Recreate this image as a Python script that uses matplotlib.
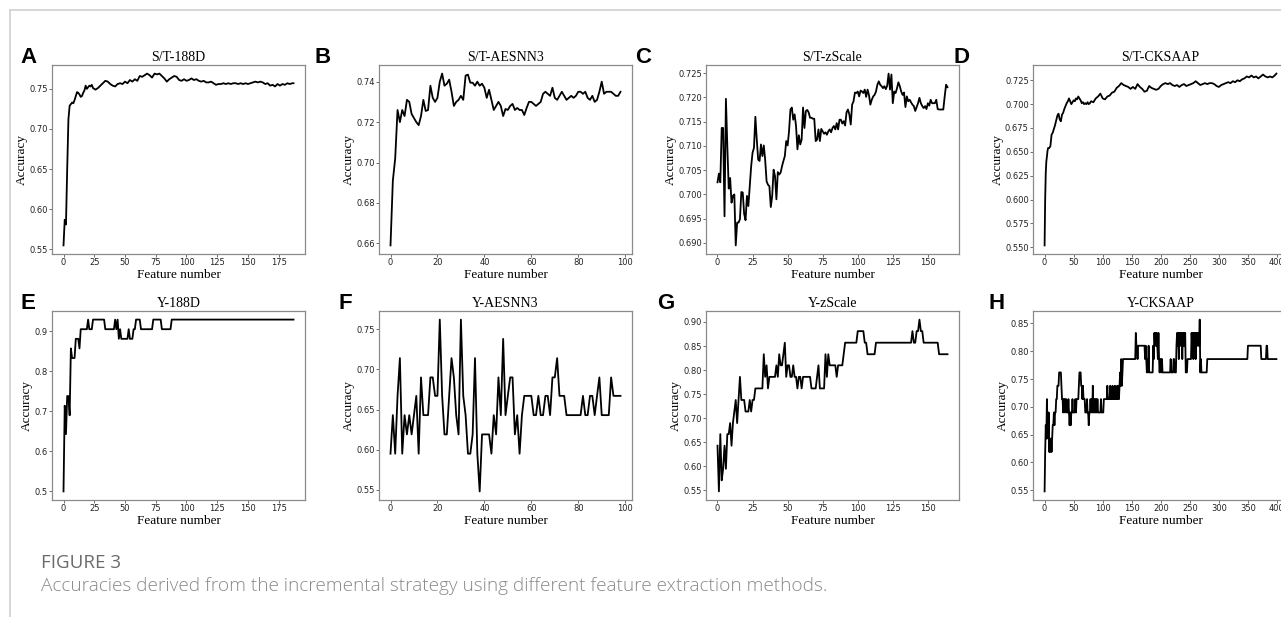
import matplotlib
matplotlib.use('Agg')
import matplotlib.pyplot as plt
from matplotlib.lines import Line2D

W, H = 1281, 617

# ---- data ----
titles = ['S/T-188D', 'S/T-AESNN3', 'S/T-zScale', 'S/T-CKSAAP',
          'Y-188D', 'Y-AESNN3', 'Y-zScale', 'Y-CKSAAP']
letters = ['A', 'B', 'C', 'D', 'E', 'F', 'G', 'H']

a_x = list(range(0, 25)) + list(range(26, 187, 2)) + [187]
a_y = [0.555, 0.587, 0.581, 0.650, 0.712, 0.729, 0.731, 0.733, 0.732, 0.736,
       0.741, 0.746, 0.745, 0.743, 0.740, 0.741, 0.745, 0.748, 0.754, 0.750,
       0.752, 0.754, 0.753, 0.755, 0.751,
       0.749, 0.751, 0.754, 0.757, 0.760, 0.759, 0.756, 0.754, 0.753, 0.756,
       0.757, 0.756, 0.759, 0.757, 0.761, 0.759, 0.762, 0.760, 0.766, 0.765,
       0.767, 0.769, 0.767, 0.764, 0.769, 0.768, 0.769, 0.766, 0.763, 0.759,
       0.762, 0.764, 0.766, 0.765, 0.761, 0.760, 0.762, 0.760, 0.761, 0.763,
       0.761, 0.762, 0.760, 0.759, 0.760, 0.758, 0.758, 0.759, 0.757, 0.755,
       0.756, 0.756, 0.757, 0.756, 0.757, 0.756, 0.757, 0.757, 0.756, 0.757,
       0.756, 0.757, 0.756, 0.757, 0.758, 0.759, 0.758, 0.759, 0.758, 0.756,
       0.757, 0.754, 0.755, 0.753, 0.756, 0.754, 0.756, 0.755, 0.757, 0.756,
       0.757, 0.757]

b_y = [0.659, 0.691, 0.702, 0.726, 0.720, 0.726, 0.723, 0.731, 0.730, 0.724,
       0.722, 0.720, 0.7185, 0.723, 0.731, 0.7255, 0.726, 0.738, 0.732, 0.730,
       0.732, 0.740, 0.744, 0.738, 0.739, 0.741, 0.735, 0.728, 0.730, 0.731,
       0.733, 0.731, 0.743, 0.7435, 0.7395, 0.7395, 0.738, 0.740, 0.738, 0.739,
       0.737, 0.732, 0.736, 0.731, 0.726, 0.728, 0.730, 0.728, 0.723, 0.7265,
       0.726, 0.728, 0.729, 0.726, 0.727, 0.726, 0.726, 0.7235, 0.727, 0.730,
       0.730, 0.729, 0.728, 0.729, 0.730, 0.734, 0.735, 0.734, 0.733, 0.737,
       0.732, 0.731, 0.733, 0.735, 0.733, 0.731, 0.732, 0.733, 0.732, 0.733,
       0.735, 0.735, 0.734, 0.735, 0.732, 0.731, 0.733, 0.730, 0.731, 0.735,
       0.740, 0.734, 0.735, 0.735, 0.735, 0.734, 0.733, 0.733, 0.735]

c_y = [0.7025, 0.7043, 0.7025, 0.7137, 0.7137, 0.6955, 0.7197, 0.7100, 0.7012, 0.7034,
       0.6983, 0.6997, 0.7000, 0.6895, 0.6942, 0.6942, 0.6949, 0.7005, 0.7004, 0.6960,
       0.6947, 0.6997, 0.6976, 0.7017, 0.7058, 0.7086, 0.7096, 0.7160, 0.7113, 0.7072,
       0.7069, 0.7103, 0.7079, 0.7101, 0.7071, 0.7027, 0.7020, 0.7017, 0.6974, 0.6997,
       0.7051, 0.7038, 0.6990, 0.7046, 0.7041, 0.7045, 0.7058, 0.7069, 0.7079, 0.7110,
       0.7101, 0.7130, 0.7175, 0.7179, 0.7154, 0.7165, 0.7141, 0.7093, 0.7122, 0.7103,
       0.7113, 0.7179, 0.7137, 0.7172, 0.7174, 0.7169, 0.7158, 0.7158, 0.7156, 0.7156,
       0.7110, 0.7113, 0.7134, 0.7110, 0.7135, 0.7130, 0.7125, 0.7128, 0.7123, 0.7130,
       0.7134, 0.7128, 0.7137, 0.7141, 0.7134, 0.7147, 0.7134, 0.7154, 0.7154, 0.7146,
       0.7151, 0.7142, 0.7169, 0.7175, 0.7165, 0.7144, 0.7185, 0.7192, 0.7210, 0.7209,
       0.7212, 0.7202, 0.7214, 0.7212, 0.7209, 0.7216, 0.7201, 0.7216, 0.7205, 0.7185,
       0.7195, 0.7202, 0.7205, 0.7212, 0.7226, 0.7233, 0.7226, 0.7223, 0.7219, 0.7223,
       0.7217, 0.7224, 0.7249, 0.7216, 0.7247, 0.7188, 0.7212, 0.7209, 0.7219, 0.7231,
       0.7223, 0.7212, 0.7205, 0.7210, 0.7180, 0.7202, 0.7192, 0.7195, 0.7190, 0.7185,
       0.7182, 0.7172, 0.7180, 0.7188, 0.7199, 0.7188, 0.7182, 0.7178, 0.7182, 0.7176,
       0.7188, 0.7183, 0.7195, 0.7188, 0.7188, 0.7188, 0.7195, 0.7176, 0.7175, 0.7175,
       0.7175, 0.7175, 0.7202, 0.7226, 0.7221]

d_x = [0, 1, 2, 3, 4, 5, 6, 8, 10, 12, 14, 16, 18, 20, 22, 24, 26, 28, 30, 32,
       34, 36, 38, 40, 42, 44, 46, 48, 50, 52, 54, 56, 58, 60, 62, 64, 66, 68,
       70, 72, 74, 76, 78, 80, 84, 88, 92, 96, 100, 104, 108, 112, 116, 120,
       124, 128, 132, 136, 140, 144, 148, 152, 156, 160, 164, 168, 172, 176,
       180, 184, 188, 192, 196, 200, 204, 208, 212, 216, 220, 224, 228, 232,
       236, 240, 244, 248, 252, 256, 260, 264, 268, 272, 276, 280, 284, 288,
       292, 296, 300, 304, 308, 312, 316, 320, 324, 328, 332, 336, 340, 344,
       348, 352, 356, 360, 364, 368, 372, 376, 380, 384, 388, 392, 396, 399]
d_y = [0.552, 0.600, 0.628, 0.640, 0.645, 0.651, 0.654, 0.654, 0.656, 0.668,
       0.670, 0.674, 0.678, 0.683, 0.688, 0.690, 0.684, 0.682, 0.689, 0.691,
       0.695, 0.698, 0.701, 0.703, 0.706, 0.703, 0.700, 0.702, 0.704, 0.703,
       0.706, 0.705, 0.708, 0.706, 0.704, 0.701, 0.702, 0.700, 0.701, 0.700,
       0.702, 0.700, 0.701, 0.703, 0.702, 0.706, 0.708, 0.711, 0.706, 0.705,
       0.708, 0.709, 0.712, 0.713, 0.717, 0.719, 0.722, 0.720, 0.719, 0.718,
       0.716, 0.718, 0.716, 0.721, 0.718, 0.716, 0.713, 0.714, 0.719, 0.717,
       0.716, 0.715, 0.716, 0.719, 0.721, 0.722, 0.721, 0.722, 0.720, 0.719,
       0.720, 0.718, 0.720, 0.721, 0.719, 0.720, 0.721, 0.722, 0.724, 0.722,
       0.720, 0.721, 0.722, 0.721, 0.722, 0.722, 0.721, 0.719, 0.718, 0.720,
       0.721, 0.722, 0.723, 0.722, 0.724, 0.723, 0.725, 0.724, 0.726, 0.727,
       0.729, 0.728, 0.730, 0.728, 0.729, 0.727, 0.729, 0.731, 0.729, 0.728,
       0.729, 0.728, 0.730, 0.732]

e_x = [0, 1, 2, 3, 4, 5, 6, 7, 9, 10, 12, 13, 14, 19, 20, 21, 23, 24, 33, 34,
       41, 42, 43, 44, 45, 46, 47, 52, 53, 54, 56, 57, 58, 59, 62, 63, 72, 73,
       79, 80, 87, 88, 187]
e_y = [0.500, 0.714, 0.643, 0.738, 0.738, 0.690, 0.857, 0.833, 0.833, 0.881,
       0.881, 0.857, 0.905, 0.905, 0.929, 0.905, 0.905, 0.929, 0.929, 0.905,
       0.905, 0.929, 0.905, 0.929, 0.881, 0.905, 0.881, 0.881, 0.905, 0.881,
       0.881, 0.905, 0.905, 0.929, 0.929, 0.905, 0.905, 0.929, 0.929, 0.905,
       0.905, 0.929, 0.929]

f_y = [0.595, 0.643, 0.595, 0.667, 0.714, 0.595, 0.643, 0.619, 0.643, 0.619,
       0.643, 0.667, 0.595, 0.690, 0.643, 0.643, 0.643, 0.690, 0.690, 0.667,
       0.667, 0.762, 0.667, 0.619, 0.619, 0.667, 0.714, 0.690, 0.643, 0.619,
       0.762, 0.667, 0.643, 0.595, 0.595, 0.619, 0.714, 0.595, 0.548, 0.619,
       0.619, 0.619, 0.619, 0.595, 0.643, 0.619, 0.690, 0.643, 0.738, 0.643,
       0.667, 0.690, 0.690, 0.619, 0.643, 0.595, 0.643, 0.667, 0.667, 0.667,
       0.667, 0.643, 0.643, 0.667, 0.643, 0.643, 0.667, 0.667, 0.643, 0.690,
       0.690, 0.714, 0.667, 0.667, 0.667, 0.643, 0.643, 0.643, 0.643, 0.643,
       0.643, 0.643, 0.667, 0.643, 0.643, 0.667, 0.667, 0.643, 0.667, 0.690,
       0.643, 0.643, 0.643, 0.643, 0.690, 0.667, 0.667, 0.667, 0.667]

g_y = [0.643, 0.548, 0.667, 0.571, 0.595, 0.643, 0.595, 0.667, 0.667, 0.690,
       0.643, 0.690, 0.714, 0.738, 0.690, 0.738, 0.786, 0.738, 0.738, 0.738,
       0.714, 0.714, 0.714, 0.738, 0.714, 0.738, 0.738, 0.762, 0.762, 0.762,
       0.762, 0.762, 0.762, 0.833, 0.786, 0.810, 0.762, 0.786, 0.786, 0.786,
       0.786, 0.786, 0.810, 0.786, 0.833, 0.810, 0.810, 0.833, 0.857, 0.786,
       0.810, 0.810, 0.786, 0.786, 0.810, 0.786, 0.786, 0.762, 0.786, 0.786,
       0.762, 0.786, 0.786, 0.786, 0.786, 0.786, 0.786, 0.762, 0.762, 0.762,
       0.762, 0.786, 0.810, 0.762, 0.762, 0.762, 0.762, 0.833, 0.786, 0.833,
       0.810, 0.810, 0.810, 0.810, 0.810, 0.786, 0.810, 0.810, 0.810, 0.810,
       0.833, 0.857, 0.857, 0.857, 0.857, 0.857, 0.857, 0.857, 0.857, 0.857,
       0.881, 0.881, 0.881, 0.881, 0.881, 0.857, 0.857, 0.833, 0.833, 0.833,
       0.833, 0.833, 0.833, 0.857, 0.857, 0.857, 0.857, 0.857, 0.857, 0.857,
       0.857, 0.857, 0.857, 0.857, 0.857, 0.857, 0.857, 0.857, 0.857, 0.857,
       0.857, 0.857, 0.857, 0.857, 0.857, 0.857, 0.857, 0.857, 0.857, 0.881,
       0.857, 0.857, 0.881, 0.881, 0.905, 0.881, 0.881, 0.857, 0.857, 0.857,
       0.857, 0.857, 0.857, 0.857, 0.857, 0.857, 0.857, 0.857, 0.833, 0.833,
       0.833, 0.833, 0.833, 0.833, 0.833]

h_x = [0, 1, 2, 3, 4, 5, 6, 7, 8, 9, 10, 11, 12, 13, 14, 15, 16, 17, 18, 19,
       20, 21, 22, 24, 25, 28, 29, 30, 31, 32, 33, 34, 35, 36, 37, 38, 40, 41,
       42, 43, 44, 45, 46, 47, 48, 49, 52, 53, 54, 55, 58, 59, 60, 62, 63, 64,
       65, 66, 67, 69, 70, 72, 73, 74, 75, 76, 77, 78, 79, 80, 81, 82, 83, 84,
       85, 86, 87, 88, 89, 90, 91, 92, 96, 97, 98, 101, 102, 107, 108, 109,
       112, 113, 114, 116, 117, 118, 120, 121, 122, 124, 125, 126, 127, 128,
       129, 130, 131, 132, 133, 134, 135, 156, 157, 158, 159, 160, 161, 172,
       173, 174, 175, 176, 177, 178, 179, 180, 186, 187, 188, 189, 190, 191,
       192, 193, 194, 195, 196, 197, 198, 199, 200, 201, 202, 203, 216, 217,
       218, 221, 222, 223, 224, 226, 227, 228, 229, 230, 231, 232, 233, 234,
       235, 236, 237, 238, 239, 240, 241, 242, 243, 245, 246, 252, 253, 254,
       255, 256, 257, 258, 259, 260, 261, 262, 263, 264, 265, 266, 267, 268,
       269, 270, 279, 280, 349, 350, 372, 373, 381, 382, 383, 384, 399]
h_y = [0.548, 0.619, 0.667, 0.643, 0.714, 0.667, 0.643, 0.690, 0.619, 0.643,
       0.619, 0.643, 0.619, 0.643, 0.667, 0.667, 0.690, 0.667, 0.690, 0.690,
       0.714, 0.714, 0.738, 0.738, 0.762, 0.762, 0.738, 0.714, 0.714, 0.690,
       0.714, 0.714, 0.690, 0.714, 0.714, 0.690, 0.690, 0.714, 0.690, 0.667,
       0.690, 0.667, 0.690, 0.690, 0.714, 0.690, 0.690, 0.714, 0.690, 0.714,
       0.714, 0.738, 0.762, 0.762, 0.738, 0.738, 0.714, 0.738, 0.714, 0.714,
       0.690, 0.690, 0.714, 0.690, 0.690, 0.667, 0.690, 0.690, 0.714, 0.690,
       0.714, 0.690, 0.738, 0.690, 0.714, 0.690, 0.714, 0.690, 0.714, 0.690,
       0.714, 0.690, 0.690, 0.714, 0.690, 0.690, 0.714, 0.714, 0.738, 0.714,
       0.714, 0.738, 0.714, 0.714, 0.738, 0.714, 0.714, 0.738, 0.714, 0.714,
       0.738, 0.714, 0.738, 0.714, 0.738, 0.762, 0.738, 0.786, 0.738, 0.762,
       0.786, 0.786, 0.833, 0.810, 0.810, 0.786, 0.810, 0.810, 0.786, 0.810,
       0.786, 0.762, 0.786, 0.762, 0.810, 0.762, 0.762, 0.810, 0.786, 0.833,
       0.810, 0.833, 0.810, 0.833, 0.810, 0.786, 0.833, 0.786, 0.762, 0.786,
       0.786, 0.762, 0.786, 0.762, 0.762, 0.786, 0.762, 0.762, 0.786, 0.786,
       0.762, 0.762, 0.810, 0.833, 0.810, 0.833, 0.786, 0.833, 0.810, 0.833,
       0.810, 0.833, 0.786, 0.833, 0.810, 0.833, 0.810, 0.833, 0.762, 0.762,
       0.786, 0.786, 0.833, 0.810, 0.833, 0.786, 0.833, 0.810, 0.833, 0.786,
       0.833, 0.810, 0.833, 0.810, 0.833, 0.810, 0.857, 0.762, 0.786, 0.762,
       0.762, 0.786, 0.786, 0.810, 0.810, 0.786, 0.786, 0.810, 0.810, 0.786,
       0.786]

series = [
    (a_x, a_y),
    (list(range(len(b_y))), b_y),
    (list(range(len(c_y))), c_y),
    (d_x, d_y),
    (e_x, e_y),
    (list(range(len(f_y))), f_y),
    (list(range(len(g_y))), g_y),
    (h_x, h_y),
]

caption_head = 'FIGURE 3'
caption_text = 'Accuracies derived from the incremental strategy using different feature extraction methods.'


def px_box(left, top, width, height):
    return [left / W, 1 - (top + height) / H, width / W, height / H]


fig = plt.figure(figsize=(W / 100, H / 100), dpi=100)

serif = 'Liberation Serif'
col_left = [52, 379, 706, 1033]
row_top = [65, 311]
ax_w, ax_h = 253, 189
# left edge of the panel letters, in pixels
letter_left = [20, 315, 635, 953, 21, 338, 657, 988]

for k, (xs, ys) in enumerate(series):
    r, c = divmod(k, 4)
    ax = fig.add_axes(px_box(col_left[c], row_top[r], ax_w + (2 if c == 3 else 0), ax_h))
    ax.plot(xs, ys, color='black', lw=1.3)
    ax.set_title(titles[k], family=serif, fontsize=10, pad=3)
    ax.set_xlabel('Feature number', family=serif, fontsize=9.5, labelpad=1)
    ax.set_ylabel('Accuracy', family=serif, fontsize=9.5, labelpad=1)
    ax.tick_params(labelsize=6, length=2, width=0.6, pad=1,
                   color='#555555', labelcolor='#222222')
    for sp in ax.spines.values():
        sp.set_color('#8a8a8a')
        sp.set_linewidth(0.9)
    fig.text(letter_left[k] / W, 1 - (row_top[r] - 2) / H, letters[k],
             fontsize=16, fontweight='bold', family='Liberation Sans',
             va='baseline', ha='left')

# frame lines of the page
fig.add_artist(Line2D([10 / W, 10 / W], [0, 1 - 10 / H], color='#d0d0d0', lw=1.2))
fig.add_artist(Line2D([10 / W, 1], [1 - 10 / H, 1 - 10 / H], color='#d0d0d0', lw=1.2))

fig.text(41 / W, 1 - 568 / H, caption_head, family='Open Sans', fontsize=13.5,
         color='#6b6b6b', va='baseline')
fig.text(41 / W, 1 - 591 / H, caption_text, family='Open Sans', fontsize=13.7,
         fontweight='light', color='#8a8a8a', va='baseline')

fig.savefig('out.png', dpi=100)
